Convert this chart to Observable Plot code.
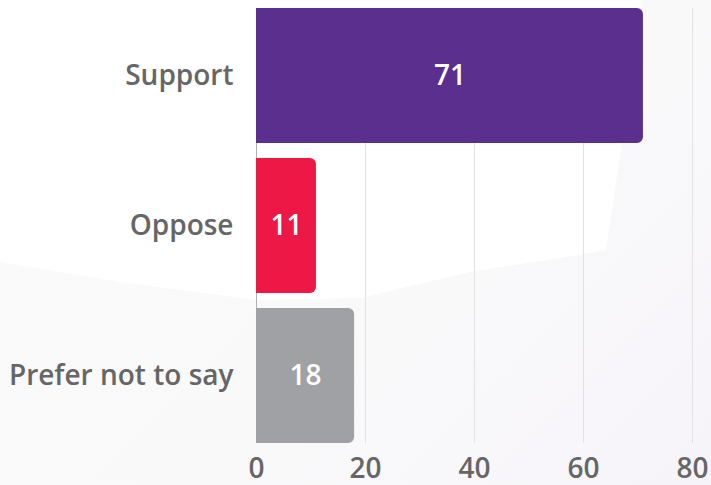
<!DOCTYPE html>
<html>
<head>
<meta charset="utf-8">
<script src="https://cdn.jsdelivr.net/npm/d3@7"></script>
<script src="https://cdn.jsdelivr.net/npm/@observablehq/plot@0.6"></script>
<style>
  html, body { margin: 0; padding: 0; }
  body { width: 711px; height: 485px; position: relative; overflow: hidden;
         background: linear-gradient(135deg, #fafafb 0%, #f9f9fa 60%, #f7f4f9 100%); font-family: "Open Sans", sans-serif; }
  #bgwhite { position: absolute; left: 0; top: 0; width: 711px; height: 485px; background: #ffffff;
         clip-path: polygon(0px 0px, 643px 0px, 606px 250px, 560px 258px, 470px 272px, 360px 298px, 256px 300px, 120px 282px, 0px 262px); }
  #chart { position: absolute; left: 0; top: 0; }
  svg { background: transparent !important; }
</style>
</head>
<body>
<div id="bgwhite"></div>
<div id="chart"></div>
<script>
const categories = ["Support", "Oppose", "Prefer not to say"];
const values = [71, 11, 18];
const colors = ["#5b2f8e", "#ee1846", "#a0a1a4"];
const xTicks = [0, 20, 40, 60, 80];

const data = categories.map((c, i) => ({category: c, value: values[i], color: colors[i]}));

const font = "'Open Sans', sans-serif";
const chart = Plot.plot({
  width: 711,
  height: 485,
  marginLeft: 256,
  marginRight: 19,
  marginTop: 8,
  marginBottom: 42,
  style: {fontFamily: font, background: "transparent"},
  x: {domain: [0, 80], ticks: xTicks, label: null},
  y: {domain: categories, paddingInner: 0.1, paddingOuter: 0, label: null},
  marks: [
    Plot.ruleX(xTicks.filter(t => t > 0), {stroke: "#e2e2e2", strokeWidth: 1}),
    Plot.ruleX([0], {stroke: "#b0b0b0", strokeWidth: 1}),
    Plot.barX(data, {y: "category", x: "value", fill: "color", rx2: 6}),
    Plot.text(data, {y: "category", x: d => d.value / 2, text: d => String(d.value),
      fill: "white", fontSize: 28, fontWeight: 600}),
    Plot.axisX({ticks: xTicks, tickSize: 0, tickPadding: 15, fontSize: 28, fontWeight: 600,
      fill: "#666666", label: null}),
    Plot.axisY({tickSize: 0, tickPadding: 23, fontSize: 28, fontWeight: 600,
      fill: "#666666", label: null})
  ]
});
document.getElementById("chart").appendChild(chart);
</script>
</body>
</html>
